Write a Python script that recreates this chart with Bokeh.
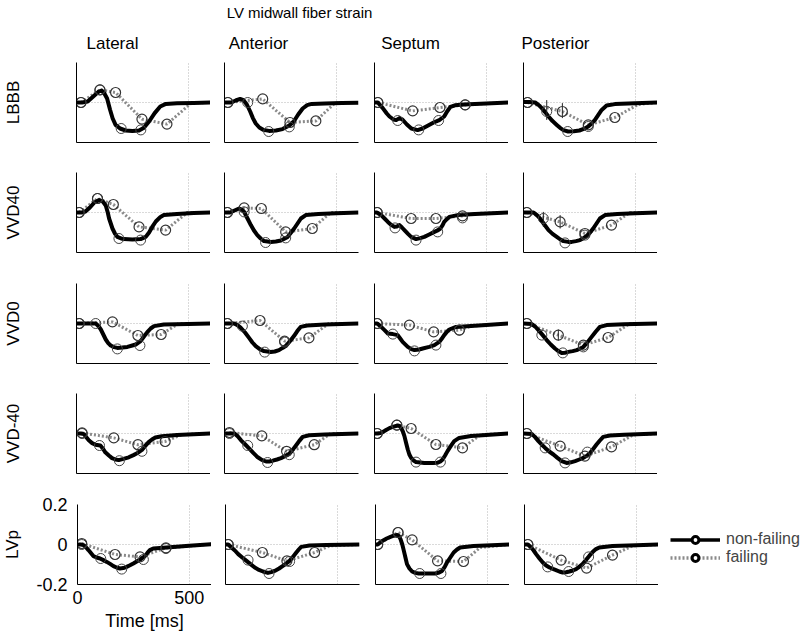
from bokeh.plotting import figure
from bokeh.models import Range1d, FixedTicker, Label, Legend, LegendItem
from bokeh.layouts import column, row
from bokeh.embed import file_html
from bokeh.resources import INLINE

FONT = "Liberation Sans"
NAN = float("nan")

TITLE = "LV midwall fiber strain"
ROWS = ["LBBB", "VVD40", "VVD0", "VVD-40", "LVp"]
COLS = ["Lateral", "Anterior", "Septum", "Posterior"]
X_TICKS = [0, 500]
Y_TICKS = [-0.2, 0, 0.2]
SERIES = ["non-failing", "failing"]

# ---- data: (time ms, strain) ----
# nf = non-failing curve, nfm = non-failing markers, f = failing markers, ft = failing tail
LBBB_Lateral_nf = [(0,0),(25,0),(50,0.005),(75,0.03),(100,0.055),(112,0.06),(125,0.045),(137,0.02),(150,-0.035),(162,-0.08),(175,-0.112),(195,-0.13),(220,-0.14),(250,-0.143),(280,-0.14),(300,-0.128),(325,-0.095),(350,-0.053),(375,-0.02),(400,-0.007),(450,-0.004),(525,-0.002),(600,0)]
LBBB_Lateral_nfm = [(20,0),(105,0.063),(200,-0.13),(288,-0.137)]
LBBB_Lateral_f = [(20,0),(105,0.063),(175,0.05),(293,-0.083),(405,-0.108)]
LBBB_Lateral_ft = [(515,-0.002),(600,0)]

LBBB_Anterior_nf = [(0,0),(30,0),(50,0.01),(70,0.018),(85,0.012),(100,-0.01),(115,-0.045),(127,-0.078),(140,-0.105),(156,-0.125),(175,-0.137),(200,-0.142),(230,-0.14),(260,-0.133),(290,-0.115),(310,-0.095),(330,-0.06),(350,-0.03),(370,-0.013),(390,-0.007),(450,-0.005),(525,-0.003),(600,-0.001)]
LBBB_Anterior_nfm = [(15,0),(104,0.0),(198,-0.145),(290,-0.122)]
LBBB_Anterior_f = [(15,0),(171,0.018),(293,-0.1),(409,-0.092)]
LBBB_Anterior_ft = [(495,-0.002),(600,0)]

LBBB_Septum_nf = [(0,0),(15,0),(37,-0.028),(55,-0.055),(67,-0.07),(85,-0.085),(97,-0.088),(112,-0.078),(125,-0.085),(145,-0.11),(165,-0.13),(193,-0.138),(215,-0.13),(240,-0.115),(265,-0.1),(290,-0.088),(312,-0.07),(325,-0.045),(340,-0.022),(360,-0.014),(400,-0.01),(450,-0.007),(525,-0.004),(600,0)]
LBBB_Septum_nfm = [(15,0),(104,-0.09),(198,-0.137),(287,-0.09),(406,-0.012)]
LBBB_Septum_f = [(15,0),(171,-0.042),(293,-0.025),(406,-0.012)]
LBBB_Septum_ft = [(450,-0.008),(600,0)]

LBBB_Posterior_nf = [(0,0.003),(25,0.003),(52,0),(67,-0.012),(82,-0.028),(97,-0.048),(112,-0.07),(130,-0.093),(149,-0.112),(165,-0.128),(179,-0.138),(200,-0.145),(225,-0.144),(250,-0.14),(270,-0.132),(290,-0.12),(305,-0.105),(320,-0.087),(335,-0.062),(350,-0.037),(372,-0.015),(409,-0.008),(500,-0.004),(600,0)]
LBBB_Posterior_nfm = [(18,0),(104,-0.045),(198,-0.145),(290,-0.12)]
LBBB_Posterior_f = [(18,0),(174,-0.045),(290,-0.112),(409,-0.075)]
LBBB_Posterior_ft = [(513,-0.01),(600,0)]

VVD40_Lateral_nf = [(0,0),(25,0),(40,0.005),(60,0.025),(80,0.05),(101,0.062),(118,0.055),(131,0.035),(140,0),(146,-0.03),(161,-0.08),(172,-0.105),(183,-0.122),(200,-0.13),(213,-0.133),(250,-0.135),(287,-0.133),(310,-0.122),(325,-0.1),(339,-0.072),(355,-0.045),(376,-0.022),(391,-0.013),(450,-0.007),(525,-0.003),(600,0)]
VVD40_Lateral_nfm = [(12,0),(94,0.07),(190,-0.13),(287,-0.138)]
VVD40_Lateral_f = [(12,0),(94,0.07),(165,0.04),(280,-0.072),(399,-0.088)]
VVD40_Lateral_ft = [(496,0),(600,0)]

VVD40_Anterior_nf = [(0,0),(25,0),(45,0.01),(65,0.02),(80,0.012),(88,0.003),(103,-0.03),(118,-0.063),(132,-0.09),(147,-0.113),(162,-0.13),(177,-0.143),(208,-0.147),(230,-0.145),(253,-0.14),(270,-0.13),(283,-0.122),(298,-0.1),(312,-0.08),(327,-0.055),(342,-0.03),(364,-0.013),(420,-0.007),(500,-0.004),(600,0)]
VVD40_Anterior_nfm = [(13,0),(88,0.003),(184,-0.15),(274,-0.127)]
VVD40_Anterior_f = [(13,0),(88,0.023),(165,0.02),(274,-0.097),(393,-0.08)]
VVD40_Anterior_ft = [(476,0),(600,0)]

VVD40_Septum_nf = [(0,0),(10,0),(30,-0.013),(45,-0.03),(60,-0.047),(75,-0.062),(89,-0.072),(100,-0.07),(112,-0.063),(123,-0.075),(134,-0.088),(150,-0.107),(164,-0.122),(186,-0.133),(205,-0.128),(223,-0.122),(245,-0.11),(268,-0.097),(285,-0.088),(295,-0.08),(305,-0.063),(312,-0.047),(325,-0.032),(335,-0.022),(372,-0.013),(450,-0.008),(525,-0.004),(600,0)]
VVD40_Septum_nfm = [(12,0),(92,-0.077),(186,-0.138),(283,-0.097),(394,-0.027)]
VVD40_Septum_f = [(12,0),(164,-0.03),(275,-0.03),(394,-0.017)]
VVD40_Septum_ft = [(446,-0.005),(600,0)]

VVD40_Posterior_nf = [(0,0),(25,0),(45,0),(60,-0.013),(74,-0.03),(90,-0.055),(112,-0.088),(130,-0.107),(149,-0.122),(165,-0.135),(179,-0.143),(200,-0.147),(216,-0.147),(235,-0.143),(253,-0.138),(270,-0.127),(283,-0.117),(298,-0.1),(312,-0.08),(327,-0.055),(342,-0.03),(365,-0.013),(420,-0.007),(500,-0.004),(600,0)]
VVD40_Posterior_nfm = [(15,0),(89,-0.03),(186,-0.152),(275,-0.113)]
VVD40_Posterior_f = [(15,0),(164,-0.047),(275,-0.105),(394,-0.063)]
VVD40_Posterior_ft = [(476,0),(600,0)]

VVD0_Lateral_nf = [(0,0),(50,0),(86,0),(98,-0.012),(109,-0.03),(120,-0.055),(131,-0.08),(142,-0.098),(153,-0.11),(168,-0.118),(183,-0.122),(205,-0.12),(228,-0.117),(250,-0.11),(265,-0.105),(287,-0.088),(302,-0.065),(317,-0.043),(332,-0.025),(347,-0.013),(391,-0.005),(500,-0.002),(600,0)]
VVD0_Lateral_nfm = [(12,0),(86,0),(183,-0.127),(284,-0.11)]
VVD0_Lateral_f = [(12,0),(161,0.008),(275,-0.06),(379,-0.055)]
VVD0_Lateral_ft = [(458,0),(600,0)]

VVD0_Anterior_nf = [(0,0),(43,0),(58,-0.008),(73,-0.022),(92,-0.045),(110,-0.072),(125,-0.095),(140,-0.113),(158,-0.128),(177,-0.138),(207,-0.143),(225,-0.14),(244,-0.133),(260,-0.122),(274,-0.113),(292,-0.09),(311,-0.063),(326,-0.038),(341,-0.017),(370,-0.01),(450,-0.005),(600,0)]
VVD0_Anterior_nfm = [(13,0),(80,-0.013),(180,-0.143),(269,-0.093)]
VVD0_Anterior_f = [(13,0),(159,0.015),(269,-0.088),(378,-0.072)]
VVD0_Anterior_ft = [(467,0),(600,0)]

VVD0_Septum_nf = [(0,0),(12,0),(30,-0.017),(45,-0.033),(60,-0.05),(82,-0.053),(104,-0.058),(115,-0.075),(126,-0.092),(149,-0.117),(165,-0.128),(179,-0.133),(200,-0.13),(216,-0.125),(245,-0.117),(268,-0.108),(290,-0.092),(300,-0.078),(312,-0.058),(324,-0.042),(335,-0.03),(365,-0.017),(432,-0.012),(500,-0.007),(600,0)]
VVD0_Septum_nfm = [(12,0),(82,-0.053),(179,-0.137),(275,-0.108),(380,-0.033)]
VVD0_Septum_f = [(12,0),(156,-0.008),(265,-0.042),(380,-0.033)]
VVD0_Septum_ft = [(432,-0.013),(600,0)]

VVD0_Posterior_nf = [(0,0),(37,-0.003),(52,-0.015),(67,-0.033),(85,-0.057),(104,-0.083),(122,-0.105),(141,-0.125),(156,-0.138),(171,-0.147),(186,-0.146),(201,-0.142),(220,-0.138),(238,-0.133),(255,-0.125),(268,-0.117),(287,-0.093),(305,-0.067),(324,-0.04),(342,-0.017),(372,-0.008),(450,-0.004),(600,0)]
VVD0_Posterior_nfm = [(15,0),(82,-0.058),(176,-0.147),(268,-0.117)]
VVD0_Posterior_f = [(15,0),(156,-0.058),(268,-0.108),(379,-0.07)]
VVD0_Posterior_ft = [(476,0),(600,0)]

VVDm40_Lateral_nf = [(0,0),(20,0),(33,-0.003),(45,-0.02),(55,-0.034),(70,-0.048),(85,-0.056),(107,-0.06),(118,-0.075),(129,-0.094),(145,-0.11),(159,-0.123),(175,-0.13),(189,-0.133),(210,-0.127),(234,-0.119),(255,-0.108),(271,-0.099),(293,-0.082),(308,-0.062),(323,-0.043),(338,-0.03),(353,-0.02),(382,-0.014),(450,-0.008),(525,-0.004),(600,0)]
VVDm40_Lateral_nfm = [(25,0),(103,-0.06),(192,-0.136),(293,-0.089)]
VVDm40_Lateral_f = [(25,0.003),(167,-0.022),(275,-0.056),(397,-0.04)]
VVDm40_Lateral_ft = [(472,-0.005),(600,0)]

VVDm40_Anterior_nf = [(0,0),(22,0),(45,0),(60,-0.015),(74,-0.034),(93,-0.055),(112,-0.077),(130,-0.098),(149,-0.119),(167,-0.132),(186,-0.14),(200,-0.14),(216,-0.136),(235,-0.13),(253,-0.123),(271,-0.113),(290,-0.102),(305,-0.082),(320,-0.06),(335,-0.037),(350,-0.017),(379,-0.009),(450,-0.005),(600,0)]
VVDm40_Anterior_nfm = [(22,0),(104,-0.06),(193,-0.145),(290,-0.106)]
VVDm40_Anterior_f = [(22,0.005),(167,-0.012),(278,-0.089),(402,-0.056)]
VVDm40_Anterior_ft = [(476,0),(600,0)]

VVDm40_Septum_nf = [(0,0),(15,0),(30,0.003),(52,0.017),(67,0.027),(82,0.033),(104,0.04),(112,0.038),(119,0.028),(127,0.01),(134,-0.013),(141,-0.045),(149,-0.08),(156,-0.105),(164,-0.122),(175,-0.135),(186,-0.143),(223,-0.147),(260,-0.147),(283,-0.146),(295,-0.14),(305,-0.13),(316,-0.11),(327,-0.088),(342,-0.062),(357,-0.038),(379,-0.022),(432,-0.013),(500,-0.007),(600,0)]
VVDm40_Septum_nfm = [(12,0),(100,0.042),(186,-0.143),(295,-0.143)]
VVDm40_Septum_f = [(12,0),(100,0.042),(164,0.025),(275,-0.055),(394,-0.072)]
VVDm40_Septum_ft = [(476,-0.005),(600,0)]

VVDm40_Posterior_nf = [(0,0),(37,-0.002),(52,-0.018),(67,-0.038),(82,-0.056),(97,-0.072),(115,-0.09),(134,-0.105),(152,-0.122),(171,-0.138),(193,-0.147),(212,-0.144),(231,-0.138),(250,-0.13),(268,-0.122),(283,-0.112),(298,-0.097),(312,-0.077),(327,-0.055),(342,-0.035),(357,-0.017),(387,-0.01),(450,-0.006),(600,0)]
VVDm40_Posterior_nfm = [(15,0),(97,-0.072),(186,-0.147),(286,-0.093)]
VVDm40_Posterior_f = [(15,0),(164,-0.063),(275,-0.113),(394,-0.067)]
VVDm40_Posterior_ft = [(491,-0.007),(600,0)]

LVp_Lateral_nf = [(0,0),(15,0),(27,-0.003),(38,-0.014),(49,-0.028),(60,-0.043),(71,-0.058),(86,-0.065),(101,-0.07),(116,-0.078),(131,-0.087),(146,-0.097),(161,-0.108),(175,-0.115),(190,-0.12),(205,-0.118),(220,-0.112),(235,-0.104),(250,-0.095),(265,-0.085),(280,-0.075),(302,-0.058),(313,-0.042),(324,-0.028),(339,-0.02),(399,-0.015),(500,-0.006),(600,0.002)]
LVp_Lateral_nfm = [(19,0),(104,-0.07),(198,-0.123),(295,-0.075),(396,-0.02)]
LVp_Lateral_f = [(19,0.005),(168,-0.05),(280,-0.062),(396,-0.017)]
LVp_Lateral_ft = [(430,-0.015),(600,0.002)]

LVp_Anterior_nf = [(0,0),(12,0),(27,-0.015),(42,-0.03),(57,-0.048),(75,-0.065),(94,-0.082),(112,-0.098),(131,-0.115),(150,-0.127),(168,-0.135),(190,-0.142),(205,-0.138),(220,-0.132),(240,-0.12),(257,-0.107),(272,-0.095),(287,-0.082),(302,-0.062),(317,-0.04),(328,-0.025),(339,-0.012),(376,-0.005),(450,-0.003),(600,0)]
LVp_Anterior_nfm = [(12,0),(101,-0.078),(195,-0.145),(287,-0.085)]
LVp_Anterior_f = [(12,0),(165,-0.04),(275,-0.082),(399,-0.04)]
LVp_Anterior_ft = [(466,-0.007),(600,0)]

LVp_Septum_nf = [(0,0),(10,0),(30,0.018),(50,0.03),(67,0.038),(82,0.044),(97,0.048),(105,0.042),(112,0.027),(120,0),(127,-0.032),(134,-0.065),(141,-0.098),(152,-0.12),(164,-0.135),(178,-0.142),(193,-0.145),(230,-0.145),(268,-0.145),(285,-0.14),(298,-0.132),(310,-0.112),(320,-0.09),(335,-0.065),(350,-0.04),(365,-0.025),(379,-0.015),(439,-0.008),(520,-0.004),(600,0)]
LVp_Septum_nfm = [(10,0),(101,0.06),(198,-0.145),(293,-0.145)]
LVp_Septum_f = [(10,0),(101,0.06),(164,0.023),(278,-0.082),(394,-0.085)]
LVp_Septum_ft = [(469,-0.015),(600,0)]

LVp_Posterior_nf = [(0,0),(15,0),(30,-0.015),(41,-0.03),(52,-0.048),(67,-0.07),(82,-0.09),(97,-0.105),(112,-0.115),(127,-0.122),(141,-0.128),(156,-0.135),(171,-0.14),(186,-0.139),(201,-0.135),(216,-0.13),(231,-0.123),(245,-0.112),(260,-0.098),(275,-0.078),(290,-0.057),(305,-0.038),(320,-0.023),(335,-0.015),(394,-0.008),(500,-0.004),(600,0)]
LVp_Posterior_nfm = [(15,0),(104,-0.112),(198,-0.135),(287,-0.062)]
LVp_Posterior_f = [(15,0),(164,-0.078),(278,-0.118),(394,-0.053)]
LVp_Posterior_ft = [(484,-0.007),(600,0)]

# error bars (time, low, high)
LBBB_Posterior_err = [(104,-0.087,0.012),(174,-0.078,-0.003)]
VVD40_Posterior_err = [(89,-0.072,0.003),(164,-0.08,-0.013)]
VVD0_Posterior_err = [(156,-0.085,-0.03)]

G = globals()
def data(r, c, kind):
    key = "%s_%s_%s" % (r.replace("VVD-", "VVDm"), c, kind)
    return G.get(key, [])

def xs(pts):
    return [p[0] for p in pts]
def ys(pts):
    return [p[1] for p in pts]

FW, FH = 134, 80
LEFTS = [74, 14, 15, 15]
RIGHTS = [0, 1, 0, 0]
TOPS = [6, 15, 15, 15, 15]
BOTS = [15, 16, 15, 16, 53]

def style_axis(ax, fs):
    ax.major_tick_out = 0
    ax.major_tick_in = 0
    ax.minor_tick_out = 0
    ax.minor_tick_in = 0
    ax.axis_line_color = "black"
    ax.axis_line_width = 1
    ax.major_label_text_font = FONT
    ax.major_label_text_font_size = "18px"
    ax.major_label_text_color = "black"
    ax.axis_label_text_font = FONT
    ax.axis_label_text_font_size = fs
    ax.axis_label_text_font_style = "normal"
    ax.axis_label_text_color = "black"

def panel(ri, ci):
    r, c = ROWS[ri], COLS[ci]
    p = figure(frame_width=FW, frame_height=FH,
               x_range=Range1d(0, 600), y_range=Range1d(-0.2, 0.2),
               min_border_left=LEFTS[ci], min_border_right=RIGHTS[ci],
               min_border_top=TOPS[ri], min_border_bottom=BOTS[ri],
               output_backend="svg", toolbar_location=None,
               outline_line_color=None)
    style_axis(p.xaxis[0], "18px")
    style_axis(p.yaxis[0], "17px")
    p.xgrid.ticker = FixedTicker(ticks=X_TICKS)
    p.ygrid.ticker = FixedTicker(ticks=Y_TICKS)
    for g in (p.xgrid[0], p.ygrid[0]):
        g.grid_line_color = "#b4b4b4"
        g.grid_line_dash = "1 2"
        g.grid_line_width = 1
    # y axis
    if ci == 0 and ri == 4:
        p.yaxis.ticker = FixedTicker(ticks=Y_TICKS)
        p.yaxis.major_label_overrides = {-0.2: "-0.2", 0: "0", 0.2: "0.2"}
        p.yaxis.major_label_standoff = 10
        p.yaxis.axis_label_standoff = 11
    else:
        p.yaxis.ticker = FixedTicker(ticks=[])
        p.yaxis.axis_label_standoff = 54
    if ci == 0:
        p.yaxis.axis_label = r
    # x axis
    if ri == 4 and ci == 0:
        p.xaxis.ticker = FixedTicker(ticks=X_TICKS)
        p.xaxis.major_label_overrides = {0: "0", 500: "500"}
        p.xaxis.axis_label = "Time [ms]"
        p.xaxis.major_label_standoff = 6
        p.xaxis.axis_label_standoff = 4
    else:
        p.xaxis.ticker = FixedTicker(ticks=[])

    nf = data(r, c, "nf")
    nfm = data(r, c, "nfm")
    f = data(r, c, "f")
    ft = data(r, c, "ft")
    err = data(r, c, "err")
    fl = f + ft
    p.line(xs(fl), ys(fl), line_color="#8a8a8a", line_width=3, line_dash="2 2")
    p.line(xs(nf), ys(nf), line_color="black", line_width=4, line_join="round")
    if err:
        p.segment(x0=xs(err), y0=[e[1] for e in err], x1=xs(err), y1=[e[2] for e in err],
                  line_color="#222222", line_width=1)
    p.scatter(xs(nfm), ys(nfm), marker="circle", size=10, line_color="#444444",
              line_width=1, fill_color=None)
    p.scatter(xs(f), ys(f), marker="circle", size=10, line_color="#333333",
              line_width=1.2, fill_color=None)
    return p

# header
HD_H = 56
hd = figure(width=800, height=HD_H, x_range=Range1d(0, 800), y_range=Range1d(0, HD_H),
            min_border=0, output_backend="svg", toolbar_location=None,
            outline_line_color=None)
hd.axis.visible = False
hd.grid.visible = False
hd.add_layout(Label(x=299, y=HD_H - 12, text=TITLE, text_align="center", text_baseline="middle",
                    text_font=FONT, text_font_size="15px", text_color="black"))
COL_TITLE_X = [112, 258, 410, 555]
for cx, name in zip(COL_TITLE_X, COLS):
    hd.add_layout(Label(x=cx, y=HD_H - 43, text=name, text_align="center", text_baseline="middle",
                        text_font=FONT, text_font_size="17px", text_color="black"))

# legend figure (frame aligned with the bottom row panels: top 15, height 80)
lg = figure(width=145, frame_height=FH, x_range=Range1d(0, 1), y_range=Range1d(0, 1),
            min_border_left=0, min_border_top=TOPS[4], min_border_right=0,
            min_border_bottom=BOTS[4],
            output_backend="svg", toolbar_location=None, outline_line_color=None)
lg.axis.visible = False
lg.grid.visible = False
# proxy renderers for the legend only (NaN data: nothing drawn in the frame)
l1 = lg.line([NAN], [NAN], line_color="black", line_width=3.5)
m1 = lg.scatter([NAN], [NAN], marker="circle", size=13, line_color="black", line_width=3, fill_color="white")
l2 = lg.line([NAN], [NAN], line_color="#8a8a8a", line_width=3.5, line_dash="2 2")
m2 = lg.scatter([NAN], [NAN], marker="circle", size=13, line_color="black", line_width=3, fill_color="white")
legend = Legend(items=[LegendItem(label=SERIES[0], renderers=[l1, m1]),
                       LegendItem(label=SERIES[1], renderers=[l2, m2])],
                location=(12, 18), glyph_width=50, glyph_height=17, label_height=17,
                label_standoff=6, spacing=0, padding=0, margin=0,
                label_text_font=FONT, label_text_font_size="16px",
                background_fill_alpha=0, border_line_alpha=0)
lg.add_layout(legend, "center")

rows = [hd]
for ri in range(5):
    figs = [panel(ri, ci) for ci in range(4)]
    if ri == 4:
        figs.append(lg)
    rows.append(row(*figs))
layout = column(*rows)

open("out.html", "w").write(file_html(layout, INLINE))
